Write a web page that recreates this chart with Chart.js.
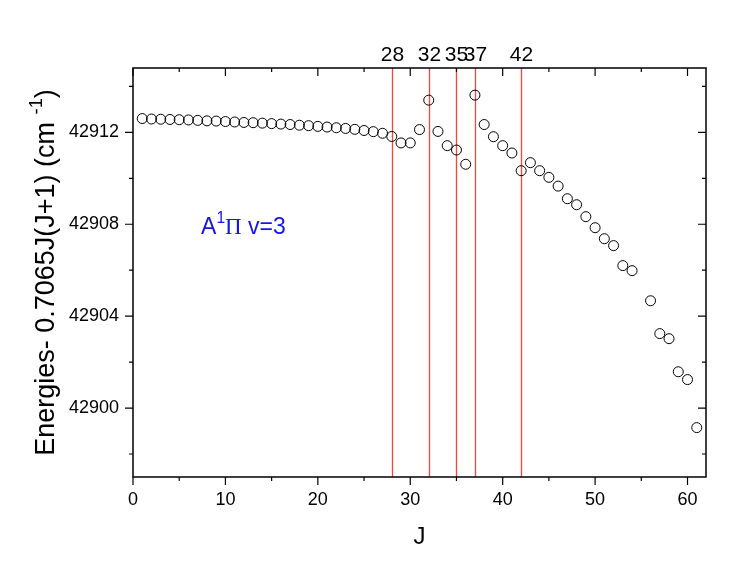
<!DOCTYPE html>
<html>
<head>
<meta charset="utf-8">
<script src="https://cdn.jsdelivr.net/npm/chart.js@4.4.0/dist/chart.umd.min.js"></script>
<style>
  html, body { margin: 0; padding: 0; background: #fff; }
  #contenedor { width: 747px; height: 572px; }
</style>
</head>
<body>
<div id="contenedor"><canvas id="graficoEnergias"></canvas></div>
<script>
// Valores de J (falta el 55)
const valoresJ = [1, 2, 3, 4, 5, 6, 7, 8, 9, 10, 11, 12, 13, 14, 15, 16, 17, 18, 19, 20,
    21, 22, 23, 24, 25, 26, 27, 28, 29, 30, 31, 32, 33, 34, 35, 36, 37, 38, 39, 40,
    41, 42, 43, 44, 45, 46, 47, 48, 49, 50, 51, 52, 53, 54, 56, 57, 58, 59, 60, 61];

// Energias - 0.7065J(J+1) en cm-1
const energias = [42912.60, 42912.58, 42912.57, 42912.56, 42912.55, 42912.54, 42912.52, 42912.50,
    42912.49, 42912.47, 42912.45, 42912.43, 42912.42, 42912.40, 42912.38, 42912.36, 42912.34,
    42912.31, 42912.29, 42912.26, 42912.23, 42912.20, 42912.17, 42912.13, 42912.08, 42912.03,
    42911.96, 42911.82, 42911.54, 42911.54, 42912.12, 42913.40, 42912.04, 42911.42, 42911.23,
    42910.61, 42913.62, 42912.34, 42911.81, 42911.42, 42911.10, 42910.33, 42910.68, 42910.33,
    42910.04, 42909.66, 42909.11, 42908.85, 42908.33, 42907.85, 42907.37, 42907.07, 42906.20,
    42905.98, 42904.67, 42903.24, 42903.02, 42901.58, 42901.24, 42899.15];

// J donde aparecen las lineas rojas
const lineasJ = [28, 32, 35, 37, 42];

// Marcas de los ejes
const marcasX = [0, 10, 20, 30, 40, 50, 60];
const marcasY = [42900, 42904, 42908, 42912];

const fuente = "'Liberation Sans', Arial, sans-serif";

// Escribe texto centrado con un trozo en superindice
function textoConSuper(ctx, partes, x, y, tam) {
    let total = 0;
    partes.forEach(p => {
        ctx.font = (p.sup ? tam * 0.68 : tam) + 'px ' + (p.familia || fuente);
        total += ctx.measureText(p.t).width;
    });
    let px = x - total / 2;
    partes.forEach(p => {
        ctx.font = (p.sup ? tam * 0.68 : tam) + 'px ' + (p.familia || fuente);
        ctx.fillText(p.t, px, p.sup ? y - tam * 0.38 : y);
        px += ctx.measureText(p.t).width;
    });
}

const pluginDecoracion = {
    id: 'decoracion',
    beforeDatasetsDraw(chart) {
        const { ctx, chartArea: a, scales } = chart;
        ctx.save();
        ctx.strokeStyle = 'rgb(245, 70, 70)';
        ctx.lineWidth = 1.3;
        ctx.fillStyle = '#000';
        ctx.font = '21px ' + fuente;
        ctx.textAlign = 'center';
        ctx.textBaseline = 'middle';
        lineasJ.forEach(j => {
            const x = Math.round(scales.x.getPixelForValue(j)) + 0.5;
            ctx.beginPath();
            ctx.moveTo(x, a.top);
            ctx.lineTo(x, a.bottom);
            ctx.stroke();
            ctx.fillText(String(j), x, a.top - 13);
        });
        ctx.restore();
    },
    afterDraw(chart) {
        const { ctx, chartArea: a, scales } = chart;
        ctx.save();
        ctx.strokeStyle = '#000';
        ctx.lineWidth = 1.5;
        ctx.strokeRect(a.left, a.top, a.right - a.left, a.bottom - a.top);

        // marcas: abajo/izquierda hacia fuera, arriba/derecha hacia dentro
        ctx.lineWidth = 1.2;
        scales.x.ticks.forEach(t => {
            const x = scales.x.getPixelForValue(t.value);
            const largo = t.value % 10 === 0 ? 8 : 4;
            ctx.beginPath();
            ctx.moveTo(x, a.bottom); ctx.lineTo(x, a.bottom + largo);
            ctx.moveTo(x, a.top); ctx.lineTo(x, a.top + largo);
            ctx.stroke();
        });
        scales.y.ticks.forEach(t => {
            const y = scales.y.getPixelForValue(t.value);
            const largo = (t.value - 42900) % 4 === 0 ? 8 : 4;
            ctx.beginPath();
            ctx.moveTo(a.left, y); ctx.lineTo(a.left - largo, y);
            ctx.moveTo(a.right, y); ctx.lineTo(a.right - largo, y);
            ctx.stroke();
        });

        // titulos de los ejes
        ctx.fillStyle = '#000';
        ctx.textBaseline = 'middle';
        ctx.textAlign = 'center';
        ctx.font = '24px ' + fuente;
        ctx.fillText('J', (a.left + a.right) / 2, 537);

        ctx.translate(47, (a.top + a.bottom) / 2);
        ctx.rotate(-Math.PI / 2);
        ctx.textAlign = 'left';
        textoConSuper(ctx, [
            { t: 'Energies- 0.7065J(J+1) (cm ' },
            { t: '-1', sup: true },
            { t: ')' }
        ], 0, 0, 27);
        ctx.setTransform(1, 0, 0, 1, 0, 0);

        // etiqueta del estado
        ctx.fillStyle = 'rgb(20, 20, 235)';
        textoConSuper(ctx, [
            { t: 'A' },
            { t: '1', sup: true },
            { t: '\u03A0', familia: "'Liberation Serif', serif" },
            { t: ' v=3' }
        ], scales.x.getPixelForValue(11.95), scales.y.getPixelForValue(42907.85), 23);
        ctx.restore();
    }
};

const datos = valoresJ.map((j, i) => ({ x: j, y: energias[i] }));

new Chart(document.getElementById('graficoEnergias'), {
    type: 'scatter',
    data: {
        datasets: [{
            label: 'A1Pi v=3',
            data: datos,
            pointStyle: 'circle',
            pointRadius: 5,
            pointHoverRadius: 5,
            borderWidth: 1,
            borderColor: '#000',
            backgroundColor: 'rgba(0,0,0,0)'
        }]
    },
    options: {
        responsive: true,
        maintainAspectRatio: false,
        animation: false,
        layout: { padding: { top: 68, right: 41, left: 0, bottom: 0 } },
        plugins: { legend: { display: false }, tooltip: { enabled: false } },
        scales: {
            x: {
                type: 'linear',
                min: 0,
                max: 62,
                afterFit: s => { s.height = 95; },
                grid: { display: false, drawTicks: false },
                border: { display: false },
                ticks: {
                    stepSize: 5,
                    includeBounds: false,
                    padding: 12,
                    maxRotation: 0,
                    autoSkip: false,
                    color: '#000',
                    font: { size: 18, family: fuente },
                    callback: v => marcasX.includes(v) ? String(v) : ''
                }
            },
            y: {
                type: 'linear',
                min: 42897,
                max: 42914.8,
                afterFit: s => { s.width = 133; },
                grid: { display: false, drawTicks: false },
                border: { display: false },
                ticks: {
                    stepSize: 2,
                    includeBounds: false,
                    padding: 14,
                    autoSkip: false,
                    color: '#000',
                    font: { size: 18, family: fuente },
                    callback: v => marcasY.includes(v) ? String(v) : ''
                }
            }
        }
    },
    plugins: [pluginDecoracion]
});
</script>
</body>
</html>
